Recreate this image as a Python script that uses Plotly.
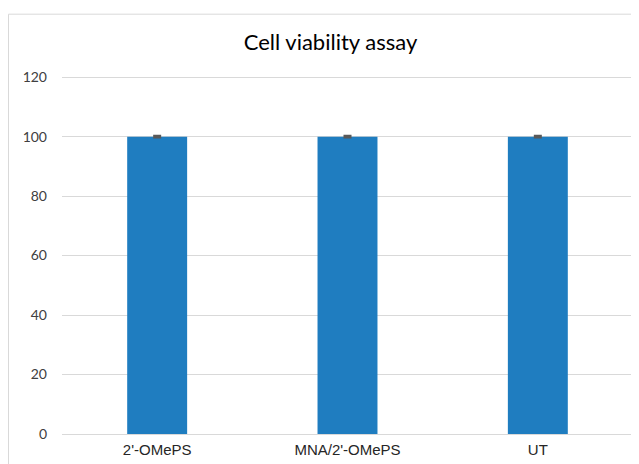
import plotly.graph_objects as go

categories = ["2'-OMePS", "MNA/2'-OMePS", "UT"]
values = [100, 100, 100]
errors = [0.3, 0.3, 0.3]
y_ticks = [0, 20, 40, 60, 80, 100, 120]

# page has an 8px body margin; figure origin sits at (8, 8)
W, H = 631, 456
L, R, T, B = 54, 6, 68, 26
pw, ph = W - L - R, H - T - B

fig = go.Figure()
fig.add_trace(go.Bar(
    x=categories, y=values,
    marker=dict(color="#1f7dc0", line=dict(width=0)),
    error_y=dict(type="data", array=errors, visible=True, color="#595959", thickness=2, width=4),
    width=0.315,
))

fig.update_layout(
    width=W, height=H,
    margin=dict(l=L, r=R, t=T, b=B),
    paper_bgcolor="white", plot_bgcolor="white",
    showlegend=False,
    title=dict(text="Cell viability assay", x=322.5 / W, xanchor="center", y=1 - 34 / H, yanchor="middle",
               font=dict(family="Lato, Carlito, sans-serif", size=22, color="#000000")),
    xaxis=dict(showgrid=False, showline=True, linecolor="#d9d9d9", linewidth=1, ticks="",
               ticklabelstandoff=2,
               tickfont=dict(family="Liberation Sans, Arial, sans-serif", size=15, color="#262626")),
    yaxis=dict(range=[0, 120.4], tickvals=y_ticks, showgrid=True, gridcolor="#d9d9d9", gridwidth=1,
               zeroline=False, showline=False, ticks="", ticklabelstandoff=14,
               tickfont=dict(family="Lato, Carlito, sans-serif", size=14, color="#404040")),
)

fig.add_shape(type="rect", xref="paper", yref="paper",
              x0=(0 - L + 0.5) / pw, x1=(W + 5 - L) / pw,
              y0=(-B - 10) / ph, y1=(ph + T - 5.5) / ph,
              line=dict(color="#d9d9d9", width=1), fillcolor="rgba(0,0,0,0)", layer="below")

fig.write_html("out.html")
